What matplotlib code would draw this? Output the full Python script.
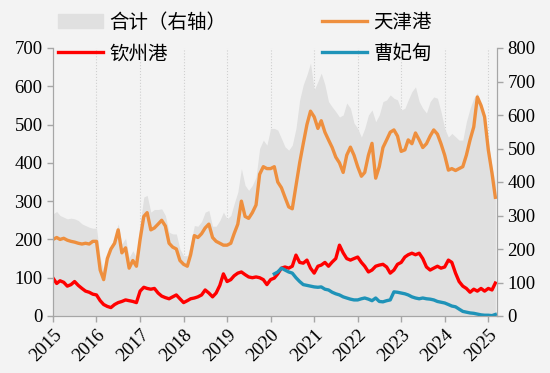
import matplotlib
matplotlib.use("Agg")
import matplotlib.pyplot as plt
import matplotlib.dates as mdates
import pandas as pd

plt.rcParams["font.family"] = ["Liberation Serif", "Noto Sans CJK SC"]

# monthly readings, Jan 2015 - Mar 2025
months = pd.date_range("2015-01-01", "2025-03-01", freq="MS")
cfd_months = pd.date_range("2020-02-01", "2025-03-01", freq="MS")

tianjin = [
    200, 205, 200, 203, 198, 195, 193, 190, 188, 190, 188, 195,  # 2015
    195, 120, 95, 150, 175, 190, 225, 165, 178, 125, 145, 130,  # 2016
    200, 260, 270, 225, 230, 240, 250, 235, 190, 180, 175, 145,  # 2017
    135, 130, 160, 210, 205, 215, 230, 240, 205, 195, 190, 185,  # 2018
    185, 190, 215, 240, 300, 260, 255, 270, 290, 370, 390, 385,  # 2019
    385, 390, 350, 335, 310, 285, 280, 340, 400, 450, 500, 535,  # 2020
    520, 490, 510, 480, 460, 440, 415, 400, 375, 420, 441, 420,  # 2021
    390, 365, 375, 420, 451, 360, 390, 440, 460, 480, 486, 470,  # 2022
    430, 434, 460, 450, 478, 460, 440, 450, 470, 486, 475, 450,  # 2023
    420, 381, 385, 380, 385, 390, 420, 460, 494, 572, 550, 520,  # 2024
    434, 373, 310,  # 2025
]
qinzhou = [
    99, 85, 92, 88, 78, 82, 90, 80, 72, 65, 62, 57,
    55, 40, 30, 25, 22, 30, 35, 38, 42, 40, 38, 35,
    65, 75, 72, 70, 72, 60, 52, 48, 45, 50, 55, 45,
    35, 40, 45, 47, 50, 55, 68, 60, 50, 60, 80, 110,
    90, 95, 105, 112, 115, 108, 102, 100, 102, 100, 95, 82,
    95, 99, 110, 125, 128, 125, 130, 159, 140, 138, 146, 125,
    112, 130, 133, 140, 130, 141, 150, 185, 165, 150, 146, 150,
    154, 140, 130, 115, 120, 130, 133, 135, 128, 112, 120, 135,
    140, 154, 160, 164, 160, 164, 150, 128, 120, 125, 130, 125,
    128, 146, 140, 112, 90, 78, 72, 62, 70, 65, 72, 65,
    72, 68, 86,
]
caofeidian = [
    110, 115, 125, 120, 115, 112, 100, 90, 82, 80, 78,  # 2020 Feb-Dec
    76, 75, 76, 70, 68, 62, 58, 55, 50, 47, 44, 42,
    42, 45, 47, 44, 40, 47, 38, 37, 40, 42, 63, 62,
    60, 58, 55, 50, 47, 45, 47, 45, 44, 42, 38, 36,
    34, 30, 26, 24, 18, 12, 10, 8, 7, 5, 3, 2,
    2, 1, 4,
]
total = [
    305, 312, 300, 295, 290, 292, 290, 285, 275, 270, 265, 262,
    262, 175, 135, 185, 210, 235, 275, 215, 232, 175, 195, 175,
    275, 355, 360, 310, 318, 318, 320, 300, 250, 245, 245, 200,
    180, 180, 215, 270, 268, 282, 310, 315, 268, 268, 285, 310,
    290, 300, 335, 370, 440, 390, 375, 390, 415, 500, 525, 510,
    560, 560, 555, 530, 505, 495, 510, 560, 645, 690, 720, 755,
    675, 700, 725, 690, 640, 624, 610, 594, 600, 636, 620, 576,
    560, 534, 560, 600, 615, 580, 600, 640, 645, 660, 650, 645,
    615, 620, 645, 670, 684, 640, 620, 606, 640, 654, 650, 610,
    560, 534, 545, 535, 525, 525, 580, 620, 650, 666, 630, 580,
    520, 445, 400,
]

bg = "#f3f3f3"
spine_c = "#a6a6a6"
cjk = ["Noto Sans CJK SC", "DejaVu Sans"]

fig = plt.figure(figsize=(5.5, 3.73), dpi=100, facecolor=bg)
ax2 = fig.add_axes([53 / 550, 1 - 316 / 373, 444 / 550, 268 / 373])
ax = ax2.twinx()
ax2.set_facecolor(bg)
ax.patch.set_visible(False)

# right axis: total as filled area
ax2.fill_between(months, total, color="#e0e0e0", lw=0, zorder=1)
years = pd.date_range("2016-01-01", "2025-01-01", freq="YS")
for y in years:
    ax2.axvline(y, color="#cfcfcf", lw=0.8, ls=":", zorder=0)

ax.plot(months, qinzhou, color="#ff0000", lw=2.4, label="钦州港")
ax.plot(months, tianjin, color="#ee8f3e", lw=2.4, label="天津港")
ax.plot(cfd_months, caofeidian, color="#1f93b8", lw=2.4, label="曹妃甸")

# ax (lines) uses left side, ax2 (fill) uses right side
ax.yaxis.tick_left()
ax2.yaxis.tick_right()
ax.set_ylim(0, 700)
ax2.set_ylim(0, 800)
ax.set_yticks(range(0, 701, 100))
ax2.set_yticks(range(0, 801, 100))
ax2.set_xlim(pd.Timestamp("2015-01-01"), pd.Timestamp("2025-03-15"))
ax2.xaxis.set_major_locator(mdates.YearLocator())
ax2.xaxis.set_major_formatter(mdates.DateFormatter("%Y"))

for a in (ax, ax2):
    for s in a.spines.values():
        s.set_color(spine_c)
    a.spines["top"].set_visible(False)
    a.tick_params(colors=spine_c, labelcolor="black", length=4, width=1,
                  direction="out", labelsize=13.5)

plt.setp(ax2.get_xticklabels(), rotation=45, ha="right", rotation_mode="anchor")

handles = [
    plt.Rectangle((0, 0), 1, 1, color="#e0e0e0"),
    ax.lines[0], ax.lines[1], ax.lines[2],
]
labels = ["合计（右轴）", "钦州港", "天津港", "曹妃甸"]
fig.legend(handles, labels, loc="upper left", bbox_to_anchor=(0.074, 1.016),
           ncol=2, frameon=False, prop={"family": cjk, "size": 14},
           handlelength=2.3, handletextpad=0.35, columnspacing=4.9,
           labelspacing=0.55)

fig.savefig("out.png", dpi=100, facecolor=bg)
